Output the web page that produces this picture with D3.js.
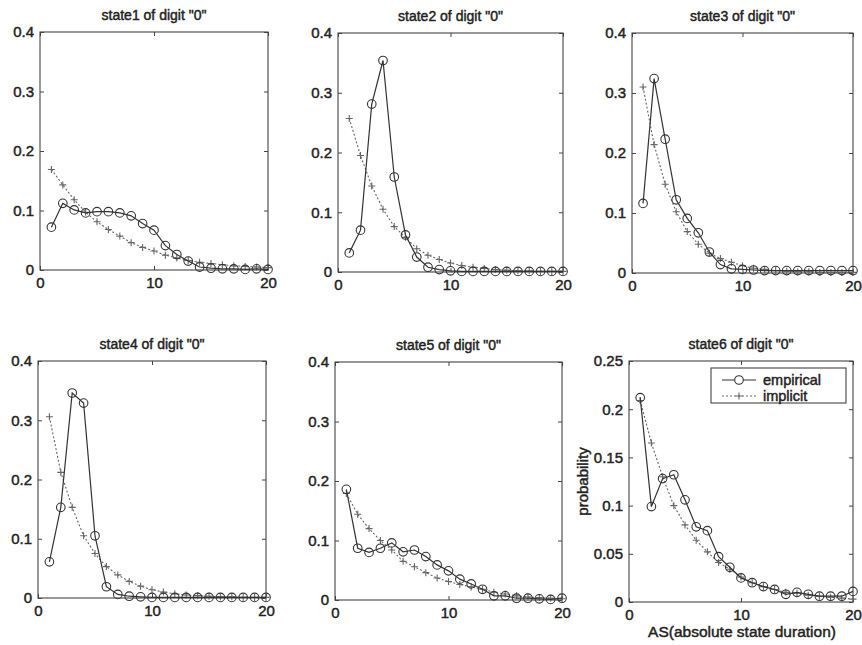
<!DOCTYPE html>
<html>
<head>
<meta charset="utf-8">
<script src="https://cdn.jsdelivr.net/npm/d3@7"></script>
<style>
  body { margin: 0; background: #fff; }
  svg { display: block; font-family: 'Liberation Sans', Arial, sans-serif; }
  .heavy { stroke: #222; stroke-width: 0.45px; paint-order: stroke; }
</style>
</head>
<body>
<div id="vis"></div>
<script>
// durations on the x axis (absolute state duration)
const durations = [1, 2, 3, 4, 5, 6, 7, 8, 9, 10, 11, 12, 13, 14, 15, 16, 17, 18, 19, 20];
const xTicks = [0, 10, 20];
const yTicks = [0, 0.1, 0.2, 0.3, 0.4];
const yTicks6 = [0, 0.05, 0.1, 0.15, 0.2, 0.25];
const titles = ['state1 of digit "0"', 'state2 of digit "0"', 'state3 of digit "0"',
  'state4 of digit "0"', 'state5 of digit "0"', 'state6 of digit "0"'];
const legendLabels = ['empirical', 'implicit'];

// probabilities
const state1Empirical = [0.072, 0.112, 0.101, 0.096, 0.098, 0.098, 0.096, 0.091, 0.078, 0.067, 0.041, 0.026, 0.015, 0.005, 0.003, 0.002, 0.002, 0.001, 0.002, 0.001];
const state1Implicit = [0.169, 0.143, 0.118, 0.097, 0.081, 0.068, 0.057, 0.046, 0.038, 0.032, 0.025, 0.020, 0.016, 0.013, 0.011, 0.009, 0.007, 0.006, 0.005, 0.004];
const state2Empirical = [0.032, 0.070, 0.281, 0.354, 0.159, 0.062, 0.025, 0.008, 0.004, 0.002, 0.001, 0.001, 0.001, 0.001, 0.001, 0.001, 0.001, 0.001, 0.001, 0.001];
const state2Implicit = [0.257, 0.195, 0.144, 0.105, 0.076, 0.058, 0.039, 0.028, 0.021, 0.015, 0.011, 0.008, 0.006, 0.004, 0.003, 0.002, 0.002, 0.001, 0.001, 0.001];
const state3Empirical = [0.116, 0.324, 0.223, 0.122, 0.091, 0.067, 0.035, 0.014, 0.007, 0.006, 0.005, 0.004, 0.004, 0.004, 0.004, 0.004, 0.004, 0.004, 0.004, 0.004];
const state3Implicit = [0.310, 0.214, 0.148, 0.102, 0.069, 0.048, 0.033, 0.024, 0.018, 0.012, 0.008, 0.006, 0.004, 0.003, 0.002, 0.002, 0.001, 0.001, 0.001, 0.001];
const state4Empirical = [0.061, 0.153, 0.346, 0.329, 0.105, 0.019, 0.006, 0.003, 0.002, 0.001, 0.001, 0.001, 0.001, 0.001, 0.001, 0.001, 0.001, 0.001, 0.001, 0.001];
const state4Implicit = [0.306, 0.212, 0.153, 0.105, 0.075, 0.053, 0.039, 0.028, 0.020, 0.014, 0.010, 0.007, 0.005, 0.004, 0.003, 0.002, 0.002, 0.001, 0.001, 0.001];
const state5Empirical = [0.186, 0.087, 0.080, 0.087, 0.096, 0.081, 0.084, 0.073, 0.059, 0.049, 0.035, 0.027, 0.018, 0.007, 0.007, 0.003, 0.003, 0.002, 0.001, 0.003];
const state5Implicit = [0.179, 0.144, 0.120, 0.100, 0.084, 0.065, 0.056, 0.046, 0.037, 0.031, 0.026, 0.022, 0.018, 0.013, 0.010, 0.007, 0.005, 0.004, 0.003, 0.002];
const state6Empirical = [0.212, 0.099, 0.128, 0.132, 0.106, 0.078, 0.074, 0.047, 0.036, 0.025, 0.020, 0.016, 0.013, 0.008, 0.010, 0.008, 0.006, 0.006, 0.006, 0.011];
const state6Implicit = [0.209, 0.165, 0.130, 0.100, 0.080, 0.064, 0.052, 0.041, 0.034, 0.026, 0.020, 0.016, 0.013, 0.010, 0.009, 0.007, 0.006, 0.005, 0.004, 0.003];

const width = 862;
const height = 645;

const svg = d3.select('#vis')
  .append('svg')
  .attr('width', width)
  .attr('height', height);

// panel boxes (the scan is a little skewed so they differ slightly)
const panels = [
  {left: 40, right: 268, top: 32, bottom: 270, yMax: 0.4, ticks: yTicks, emp: state1Empirical, imp: state1Implicit},
  {left: 338, right: 563, top: 33, bottom: 272, yMax: 0.4, ticks: yTicks, emp: state2Empirical, imp: state2Implicit},
  {left: 632, right: 853, top: 33, bottom: 273, yMax: 0.4, ticks: yTicks, emp: state3Empirical, imp: state3Implicit},
  {left: 38, right: 266, top: 361, bottom: 598, yMax: 0.4, ticks: yTicks, emp: state4Empirical, imp: state4Implicit},
  {left: 335, right: 562, top: 362, bottom: 600, yMax: 0.4, ticks: yTicks, emp: state5Empirical, imp: state5Implicit},
  {left: 629, right: 853, top: 361, bottom: 602, yMax: 0.25, ticks: yTicks6, emp: state6Empirical, imp: state6Implicit},
];

const ink = '#222';
const lineInk = '#333';
const dotInk = '#666';

function fmt(v) {
  return v === 0 ? '0' : String(v);
}

function drawPlus(g, x, y, s) {
  g.append('path')
    .attr('d', `M${x - s},${y}H${x + s}M${x},${y - s}V${y + s}`)
    .attr('stroke', dotInk)
    .attr('stroke-width', 1.1)
    .attr('fill', 'none');
}

panels.forEach(function(p, i) {
  const x = d3.scaleLinear().domain([0, 20]).range([p.left, p.right]);
  const y = d3.scaleLinear().domain([0, p.yMax]).range([p.bottom, p.top]);
  const g = svg.append('g');

  // axes box
  g.append('rect')
    .attr('x', p.left).attr('y', p.top)
    .attr('width', p.right - p.left).attr('height', p.bottom - p.top)
    .attr('fill', 'none').attr('stroke', '#444').attr('stroke-width', 1.1);

  // inward ticks on all four sides, labels only bottom and left
  const left = g.append('g').attr('transform', `translate(${p.left},0)`)
    .call(d3.axisLeft(y).tickValues(p.ticks).tickSize(-4).tickPadding(6).tickFormat(fmt));
  const bottom = g.append('g').attr('transform', `translate(0,${p.bottom})`)
    .call(d3.axisBottom(x).tickValues(xTicks).tickSize(-4).tickPadding(7).tickFormat(d3.format('d')));
  g.append('g').attr('transform', `translate(${p.right},0)`)
    .call(d3.axisRight(y).tickValues(p.ticks).tickSize(-4).tickFormat(''));
  g.append('g').attr('transform', `translate(0,${p.top})`)
    .call(d3.axisTop(x).tickValues(xTicks).tickSize(-4).tickFormat(''));
  g.selectAll('.domain').remove();
  g.selectAll('.tick line').attr('stroke', '#444');
  [left, bottom].forEach(function(a) {
    a.selectAll('text')
      .attr('class', 'heavy')
      .attr('fill', ink)
      .style('font-size', '15px')
      .style('font-family', '\'Liberation Sans\', Arial, sans-serif');
  });

  // title
  g.append('text')
    .attr('class', 'heavy')
    .attr('x', (p.left + p.right) / 2)
    .attr('y', p.top - 12)
    .attr('text-anchor', 'middle')
    .attr('fill', ink)
    .style('font-size', '14px')
    .text(titles[i]);

  // implicit: dotted line with plus markers
  const line = d3.line().x((d, k) => x(durations[k])).y((d) => y(d));
  g.append('path')
    .datum(p.imp)
    .attr('d', line)
    .attr('fill', 'none')
    .attr('stroke', dotInk)
    .attr('stroke-width', 1.1)
    .attr('stroke-dasharray', '2,2');
  p.imp.forEach(function(d, k) {
    drawPlus(g, x(durations[k]), y(d), 3.5);
  });

  // empirical: solid line with open circles
  g.append('path')
    .datum(p.emp)
    .attr('d', line)
    .attr('fill', 'none')
    .attr('stroke', lineInk)
    .attr('stroke-width', 1.2);
  g.selectAll('circle.emp')
    .data(p.emp)
    .enter()
    .append('circle')
    .attr('class', 'emp')
    .attr('cx', (d, k) => x(durations[k]))
    .attr('cy', (d) => y(d))
    .attr('r', 4.3)
    .attr('fill', 'none')
    .attr('stroke', lineInk)
    .attr('stroke-width', 1.1);
});

// axis labels on the last panel
const last = panels[5];
svg.append('text')
  .attr('class', 'heavy')
  .attr('transform', `translate(588,${(last.top + last.bottom) / 2}) rotate(-90)`)
  .attr('text-anchor', 'middle')
  .attr('fill', ink)
  .style('font-size', '15px')
  .text('probability');
svg.append('text')
  .attr('class', 'heavy')
  .attr('x', (last.left + last.right) / 2 + 1)
  .attr('y', 637)
  .attr('text-anchor', 'middle')
  .attr('fill', ink)
  .style('font-size', '15.5px')
  .text('AS(absolute state duration)');

// legend box
const legend = svg.append('g');
legend.append('rect')
  .attr('x', 711).attr('y', 368)
  .attr('width', 135).attr('height', 35)
  .attr('fill', '#fff').attr('stroke', '#444').attr('stroke-width', 1.1);
const rows = [380, 396];
legend.append('line')
  .attr('x1', 722).attr('x2', 756).attr('y1', rows[0]).attr('y2', rows[0])
  .attr('stroke', lineInk).attr('stroke-width', 1.2);
legend.append('circle')
  .attr('cx', 739).attr('cy', rows[0]).attr('r', 4.3)
  .attr('fill', '#fff').attr('stroke', lineInk).attr('stroke-width', 1.1);
legend.append('line')
  .attr('x1', 722).attr('x2', 756).attr('y1', rows[1]).attr('y2', rows[1])
  .attr('stroke', dotInk).attr('stroke-width', 1.1).attr('stroke-dasharray', '2,2');
drawPlus(legend, 739, rows[1], 3.5);
legend.selectAll('text.lab')
  .data(legendLabels)
  .enter()
  .append('text')
  .attr('class', 'heavy lab')
  .attr('x', 763)
  .attr('y', (d, k) => rows[k] + 5)
  .attr('fill', ink)
  .style('font-size', '14.5px')
  .text((d) => d);
</script>
</body>
</html>
